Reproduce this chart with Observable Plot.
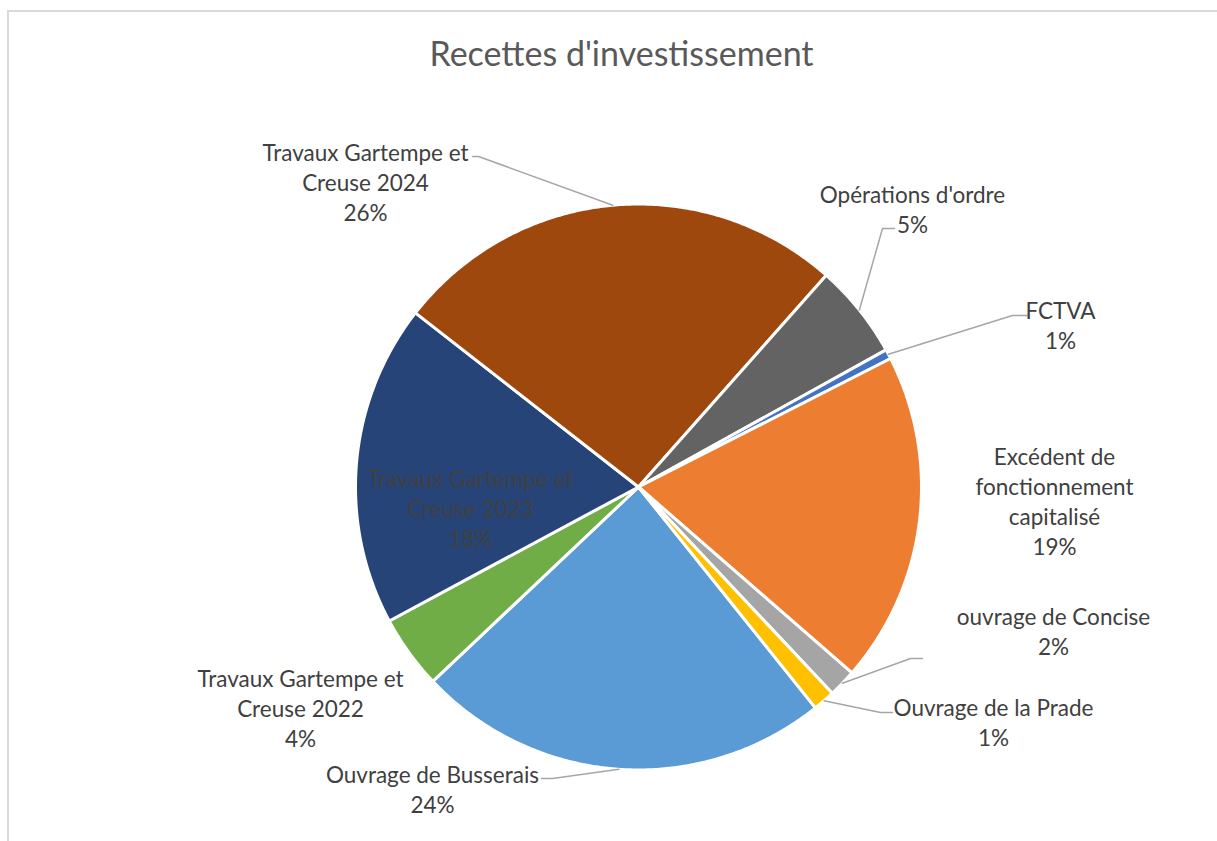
<!DOCTYPE html>
<html><head><meta charset="utf-8">
<script src="https://cdn.jsdelivr.net/npm/d3@7"></script>
<script src="https://cdn.jsdelivr.net/npm/@observablehq/plot@0.6"></script>
<style>
body{margin:0;background:#fff;}
#wrap{position:relative;width:1217px;height:841px;overflow:hidden;}
#wrap svg{position:absolute;left:0;top:0;}
#border{position:absolute;left:7px;top:10px;width:1300px;height:900px;border-left:2px solid #d9d9d9;border-top:2px solid #d9d9d9;}
</style></head><body><div id="wrap"></div>
<script>
// ---- data (percent shares) ----
const title = "Recettes d'investissement";
const categories = [
  "Ouvrage de Busserais",
  "Travaux Gartempe et Creuse 2022",
  "Travaux Gartempe et Creuse 2023",
  "Travaux Gartempe et Creuse 2024",
  "Opérations d'ordre",
  "FCTVA",
  "Excédent de fonctionnement capitalisé",
  "ouvrage de Concise",
  "Ouvrage de la Prade"
];
const values = [23.7, 4.2, 18.4, 26.0, 5.4, 0.55, 18.9, 1.6, 1.25];
const colors = ["#5B9BD5", "#70AD47", "#264478", "#9E480E", "#636363", "#4472C4", "#ED7D31", "#A5A5A5", "#FFC000"];

// ---- layout ----
const W = 1217, H = 841;
const cx = 638, cy = 486.5, R = 283;
const startDeg = 141.3;
const labelLayout = {
  "Ouvrage de Busserais": {lines: ["Ouvrage de Busserais"], x: 432, y: 788, leader: [[552, 778], [541, 778]]},
  "Travaux Gartempe et Creuse 2022": {lines: ["Travaux Gartempe et", "Creuse 2022"], x: 300, y: 707},
  "Travaux Gartempe et Creuse 2023": {lines: ["Travaux Gartempe et", "Creuse 2023"], x: 470, y: 507},
  "Travaux Gartempe et Creuse 2024": {lines: ["Travaux Gartempe et", "Creuse 2024"], x: 365, y: 181, leader: [[478, 156], [472, 156]]},
  "Opérations d'ordre": {lines: ["Opérations d'ordre"], x: 912, y: 208, leader: [[882, 228], [894, 228]]},
  "FCTVA": {lines: ["FCTVA"], x: 1060, y: 324, leader: [[1012, 315], [1027, 315]]},
  "Excédent de fonctionnement capitalisé": {lines: ["Excédent de", "fonctionnement", "capitalisé"], x: 1054, y: 500},
  "ouvrage de Concise": {lines: ["ouvrage de Concise"], x: 1053, y: 630, leader: [[910, 658], [922, 658]]},
  "Ouvrage de la Prade": {lines: ["Ouvrage de la Prade"], x: 993, y: 721, leader: [[880, 712], [892, 712]]}
};

const data = categories.map((name, i) => ({name, value: values[i], color: colors[i]}));
const total = d3.sum(values);
const start = startDeg * Math.PI / 180;
const arcs = d3.pie().sort(null).value(d => d.value).startAngle(start).endAngle(start + 2 * Math.PI)(data);

const px = t => cx + R * Math.sin(t);
const py = t => cy - R * Math.cos(t);

const polys = arcs.flatMap(a => {
  const n = Math.max(2, Math.ceil((a.endAngle - a.startAngle) / (Math.PI / 360)));
  const pts = [{name: a.data.name, x: cx, y: cy}];
  for (let i = 0; i <= n; i++) {
    const t = a.startAngle + (a.endAngle - a.startAngle) * i / n;
    pts.push({name: a.data.name, x: px(t), y: py(t)});
  }
  return pts;
});

const leaders = arcs.flatMap(a => {
  const L = labelLayout[a.data.name];
  if (!L.leader) return [];
  const m = (a.startAngle + a.endAngle) / 2;
  return [{name: a.data.name, x: px(m), y: py(m)}, ...L.leader.map(([x, y]) => ({name: a.data.name, x, y}))];
});

const labels = arcs.map(a => {
  const L = labelLayout[a.data.name];
  const pct = Math.round(a.data.value / total * 100) + "%";
  return {name: a.data.name, x: L.x, y: L.y, text: [...L.lines, pct].join("\n")};
});

const plot = Plot.plot({
  width: W, height: H,
  margin: 0,
  x: {domain: [0, W], range: [0, W], axis: null},
  y: {domain: [0, H], range: [0, H], axis: null},
  color: {domain: categories, range: colors},
  style: {background: "transparent", fontFamily: "Lato"},
  marks: [
    Plot.line(polys, {x: "x", y: "y", z: "name", fill: "name", stroke: "white", strokeWidth: 3, strokeLinejoin: "round", curve: "linear-closed"}),
    Plot.line(leaders, {x: "x", y: "y", z: "name", stroke: "#a6a6a6", strokeWidth: 1.5, curve: "linear"}),
    Plot.text(labels, {x: "x", y: "y", text: "text", fill: "#404040", fontSize: 22.5, lineHeight: 1.34, textAnchor: "middle", lineAnchor: "middle", fontFamily: "Lato"}),
    Plot.text([title], {x: () => 621, y: () => 55, text: d => d, fill: "#595959", fontSize: 34, fontWeight: 400, textAnchor: "middle", lineAnchor: "middle", fontFamily: "Lato"})
  ]
});
const wrap = document.getElementById("wrap");
wrap.appendChild(plot);
const b = document.createElement("div"); b.id = "border"; wrap.appendChild(b);
</script>
</body></html>
